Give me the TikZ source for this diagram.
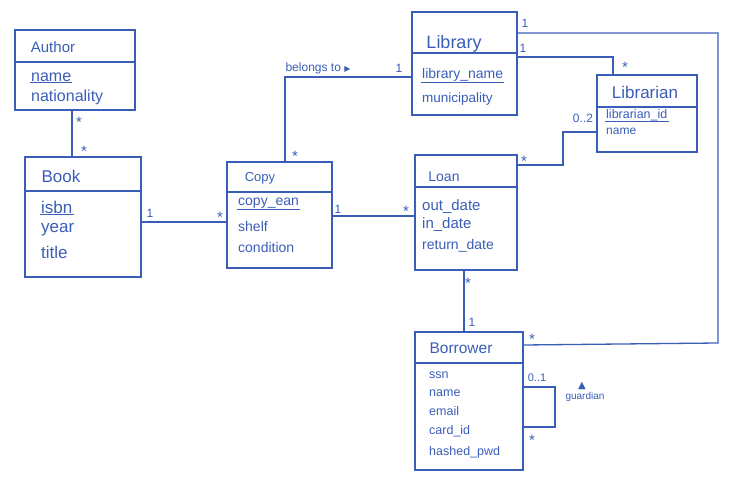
\documentclass[tikz,border=0pt]{standalone}
\usepackage{fontspec}
\setmainfont{Liberation Sans}
\newfontfamily\symf{DejaVu Sans}
\definecolor{ink}{HTML}{3A5DB8}
\begin{document}
\begin{tikzpicture}[x=1pt,y=-1pt,
  every node/.style={text=ink},
  line/.style={draw=ink,line width=1.3pt},
  box/.style={draw=ink,line width=1.3pt,inner sep=0pt,minimum width=#1},
  ttl/.style={font=\fontsize{#1}{#1}\selectfont,inner sep=0pt},
  attr/.style={anchor=west,font=\fontsize{#1}{#1}\selectfont,inner sep=1pt},
  mult/.style={font=\fontsize{12}{12}\selectfont,inner sep=0pt},
  star/.style={font=\fontsize{15}{15}\selectfont,inner sep=0pt,yshift=-3pt}]
\useasboundingbox (0,0) rectangle (753,481);
% boxes
\node[box=120,minimum height=80] (author) at (75,70) {};
\node[box=116,minimum height=120] (book) at (83,217) {};
\node[box=105,minimum height=106] (copy) at (279.5,215) {};
\node[box=102,minimum height=115] (loan) at (466,212.5) {};
\node[box=105,minimum height=103] (library) at (464.5,63.5) {};
\node[box=100,minimum height=77] (librarian) at (647,113.5) {};
\node[box=108,minimum height=138] (borrower) at (469,401) {};
% dividers
\draw[line] (author.west |- 0,62) -- (author.east |- 0,62);
\draw[line] (book.west |- 0,191) -- (book.east |- 0,191);
\draw[line] (copy.west |- 0,192) -- (copy.east |- 0,192);
\draw[line] (loan.west |- 0,187) -- (loan.east |- 0,187);
\draw[line] (library.west |- 0,53) -- (library.east |- 0,53);
\draw[line] (librarian.west |- 0,107) -- (librarian.east |- 0,107);
\draw[line] (borrower.west |- 0,363) -- (borrower.east |- 0,363);
% titles
\node[ttl=15] (tauthor) at (53,47) {Author};
\node[ttl=17] (tbook) at (61,176) {Book};
\node[ttl=13] (tcopy) at (260,178) {Copy};
\node[ttl=14] (tloan) at (444,177) {Loan};
\node[ttl=18] (tlibrary) at (454,44) {Library};
\node[ttl=17] (tlibrarian) at (645,92) {Librarian};
\node[ttl=15.5] (tborrower) at (461,348) {Borrower};
% attributes
\node[attr=16] (a1) at (30,77) {name};
\node[attr=16] (a2) at (30,97) {nationality};
\node[attr=17] (b1) at (40,207) {isbn};
\node[attr=17] (b2) at (40,230) {year};
\node[attr=17] (b3) at (40,252) {title};
\node[attr=14] (c1) at (237,203) {copy\_ean};
\node[attr=14] (c2) at (237,226) {shelf};
\node[attr=14] (c3) at (237,247) {condition};
\node[attr=15] (l1) at (421,207) {out\_date};
\node[attr=15] (l2) at (421,225) {in\_date};
\node[attr=14] (l3) at (421,246) {return\_date};
\node[attr=14] (y1) at (421,75) {library\_name};
\node[attr=13.5] (y2) at (421,99) {municipality};
\node[attr=12.5] (r1) at (605,115) {librarian\_id};
\node[attr=12] (r2) at (605,131) {name};
\node[attr=12.5] (w1) at (428,375) {ssn};
\node[attr=12.5] (w2) at (428,393) {name};
\node[attr=12.5] (w3) at (428,411) {email};
\node[attr=12.5] (w4) at (428,431) {card\_id};
\node[attr=12.5] (w5) at (428,452) {hashed\_pwd};
% underlines
\draw[line,line width=1pt] (a1.south west) -- (a1.south east);
\draw[line,line width=1pt] (b1.south west) -- (b1.south east);
\draw[line,line width=1pt] (c1.south west) -- (c1.south east);
\draw[line,line width=1pt] (y1.south west) -- (y1.south east);
\draw[line,line width=1pt] (r1.south west) -- (r1.south east);
% connector bends
\coordinate (k1) at (718,33);
\coordinate (k2) at (718,343);
\coordinate (k3) at (563,165);
\coordinate (k4) at (563,132);
\coordinate (k5) at (555,387);
\coordinate (k6) at (555,427);
% connectors
\draw[line] (author.south -| 72,0) -- (book.north -| 72,0);
\draw[line] (book.east |- 0,222) -- (copy.west |- 0,222);
\draw[line] (copy.east |- 0,216) -- (loan.west |- 0,216);
\draw[line] (copy.north -| 285,0) |- (library.west |- 0,77);
\draw[line] (library.east |- 0,57) -| (librarian.north -| 613,0);
\draw[line] (library.east |- 0,33) -- (k1) -- (k2) -- (borrower.east |- 0,345);
\draw[line] (loan.east |- 0,165) -- (k3) -- (k4) -- (librarian.west |- 0,132);
\draw[line] (loan.south -| 464,0) -- (borrower.north -| 464,0);
\draw[line] (borrower.east |- 0,387) -- (k5) -- (k6) -- (borrower.east |- 0,427);
% multiplicities
\node[star] (m1) at (79,119) {*};
\node[star] (m2) at (84,148) {*};
\node[mult] (m3) at (150,213) {1};
\node[star] (m4) at (220,214) {*};
\node[mult] (m5) at (338,209) {1};
\node[star] (m6) at (406,208) {*};
\node[star] (m7) at (295,153) {*};
\node[mult] (m8) at (399,68) {1};
\node[font=\fontsize{12}{12}\selectfont,inner sep=0pt] (belongs) at (318,68) {belongs to \symf\fontsize{8}{8}\selectfont ▶};
\node[mult] (m9) at (523,48) {1};
\node[star] (m10) at (625,64) {*};
\node[mult] (m11) at (525,23) {1};
\node[star] (m12) at (532,336) {*};
\node[star] (m13) at (524,158) {*};
\node[mult] (m14) at (583,118) {0..2};
\node[star] (m15) at (468,280) {*};
\node[mult] (m16) at (472,322) {1};
\node[mult,font=\fontsize{11}{11}\selectfont] (m17) at (537,378) {0..1};
\node[star] (m18) at (532,437) {*};
\node[font=\fontsize{10}{10}\selectfont,inner sep=0pt] (guard) at (585,397) {guardian};
\node[font=\symf\fontsize{10}{10}\selectfont,inner sep=0pt] (gtri) at (582,386) {▲};
\end{tikzpicture}
\end{document}
